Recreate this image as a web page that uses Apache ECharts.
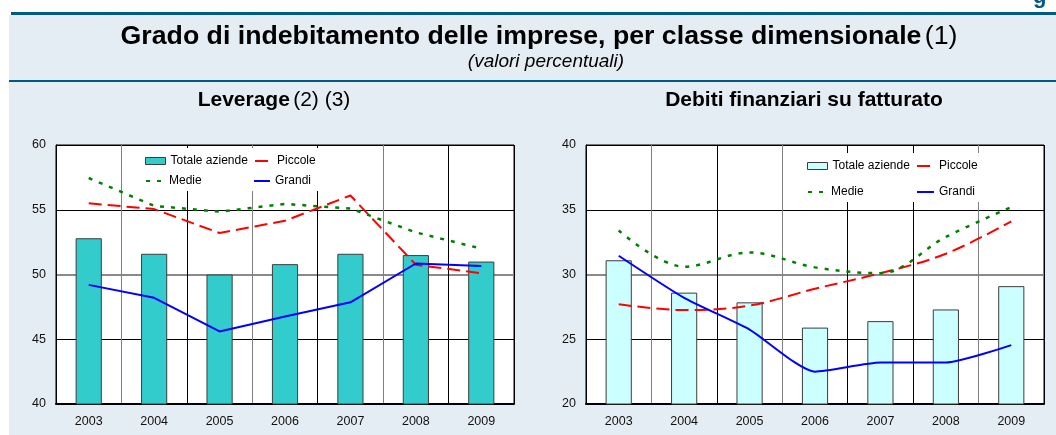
<!DOCTYPE html>
<html>
<head>
<meta charset="utf-8">
<script src="https://cdn.jsdelivr.net/npm/echarts@6/dist/echarts.min.js"></script>
<style>
html,body{margin:0;padding:0;background:#fff;}
#chart{width:1056px;height:435px;}
</style>
</head>
<body>
<div id="chart"></div>
<script>
// ---- data ----
const years = ['2003', '2004', '2005', '2006', '2007', '2008', '2009'];

// Leverage
const levTotale = [52.8, 51.6, 50.0, 50.8, 51.6, 51.5, 51.0];
const levPiccole = [55.5, 55.05, 53.2, 54.15, 56.1, 50.75, 50.1];
const levMedie = [57.45, 55.3, 54.85, 55.45, 55.1, 53.25, 52.0];
const levGrandi = [49.2, 48.2, 45.6, 46.75, 47.85, 50.85, 50.65];

// Debiti finanziari su fatturato
const debTotale = [31.1, 28.6, 27.85, 25.9, 26.4, 27.3, 29.1];
const debPiccole = [27.7, 27.25, 27.6, 28.9, 30.1, 31.6, 34.1];
const debMedie = [33.4, 30.6, 31.7, 30.55, 30.1, 32.9, 35.2];
const debGrandi = [31.45, 28.2, 25.75, 22.5, 23.2, 23.2, 24.55];

// axis ranges
const levAxis = {min: 40, max: 60, interval: 5, mid: 50};
const debAxis = {min: 20, max: 40, interval: 5, mid: 30};

// labels
const mainTitle = 'Grado di indebitamento delle imprese, per classe dimensionale';
const mainNote = '(1)';
const subTitle = '(valori percentuali)';
const leftTitle = 'Leverage';
const leftNote = '(2) (3)';
const rightTitle = 'Debiti finanziari su fatturato';
const names = ['Totale aziende', 'Piccole', 'Medie', 'Grandi'];

// ---- chart ----
const FONT = '"Liberation Sans", Arial, Helvetica, sans-serif';
const chart = echarts.init(document.getElementById('chart'), null, {renderer: 'canvas'});

const vColors = [
  ['#000', '#808080', '#000', '#808080', '#000', '#808080', '#000', '#000'],
  ['#000', '#808080', '#000', '#808080', '#000', '#000', '#808080', '#000']
];

function xAx(i) {
  return {
    type: 'category', gridIndex: i, data: years, boundaryGap: true,
    axisLine: {show: true, lineStyle: {color: '#000', width: 2}},
    axisTick: {show: false},
    axisLabel: {color: '#111', fontSize: 12.5, fontFamily: FONT, margin: 11, interval: 0},
    splitLine: {show: true, interval: 0, lineStyle: {color: vColors[i], width: 1}}
  };
}
function yAx(i, ax) {
  return {
    type: 'value', gridIndex: i, min: ax.min, max: ax.max, interval: ax.interval,
    axisLine: {show: true, lineStyle: {color: '#000', width: 1}},
    axisTick: {show: false},
    axisLabel: {color: '#111', fontSize: 12.5, fontFamily: FONT, margin: 10},
    splitLine: {show: true, lineStyle: {color: ['#000', '#000', '#808080', '#000', '#000'], width: 1}}
  };
}
function yMid(i, ax) {
  return {
    type: 'value', gridIndex: i, min: ax.min, max: ax.max, interval: ax.mid - ax.min,
    axisLine: {show: false}, axisTick: {show: false}, axisLabel: {show: false},
    splitLine: {show: true, lineStyle: {color: ['rgba(0,0,0,0)', '#8a8a8a', 'rgba(0,0,0,0)'], width: 2}}
  };
}

function lineSeries(name, data, xi, yi, color, type, width, smooth) {
  return {
    type: 'line', name: name, data: data, xAxisIndex: xi, yAxisIndex: yi,
    symbol: 'none', smooth: smooth, z: 3,
    lineStyle: {color: color, width: width, type: type},
    itemStyle: {color: color}
  };
}
function barSeries(name, data, xi, yi, color) {
  return {
    type: 'bar', name: name, data: data, xAxisIndex: xi, yAxisIndex: yi,
    barWidth: '40%', z: 2,
    itemStyle: {color: color, borderColor: '#3c3c3c', borderWidth: 1}
  };
}

const fmt = n => n.split('#')[0];
function leg(name, left, top, w, h, pad, extra) {
  return Object.assign({
    show: true, data: [name], left: left, top: top, padding: 0,
    itemWidth: w, itemHeight: h, selectedMode: false, formatter: fmt,
    textStyle: {fontSize: 12, color: '#000', fontFamily: FONT, padding: [0, 0, 0, pad]}
  }, extra || {});
}
const rectLeg = {icon: 'rect', itemStyle: {borderColor: '#3c3c3c', borderWidth: 1}};
const lineLeg = {itemStyle: {opacity: 0}};

const option = {
  animation: false,
  backgroundColor: '#E5EDF4',
  textStyle: {fontFamily: FONT},
  graphic: [
    {type: 'rect', z: 0, shape: {x: 0, y: 0, width: 1056, height: 15}, style: {fill: '#fff'}},
    {type: 'rect', z: 0, shape: {x: 0, y: 0, width: 9, height: 435}, style: {fill: '#fff'}},
    {type: 'text', z: 1, style: {text: 'g', x: 1033, y: 8, font: 'bold 22px ' + FONT, fill: '#015a84', verticalAlign: 'bottom'}},
    {type: 'rect', z: 1, shape: {x: 11, y: 12, width: 1045, height: 3}, style: {fill: '#015a84'}},
    {type: 'rect', z: 1, shape: {x: 9, y: 80, width: 1047, height: 2}, style: {fill: '#015a84'}},
    {type: 'text', z: 1, style: {
      text: '{b|' + mainTitle + '} {r|' + mainNote + '}', x: 539, y: 37, align: 'center', verticalAlign: 'middle',
      rich: {b: {font: 'bold 26.7px ' + FONT, fill: '#000'}, r: {font: '26.7px ' + FONT, fill: '#000'}}}},
    {type: 'text', z: 1, style: {text: subTitle, x: 546, y: 62, align: 'center', verticalAlign: 'middle',
      font: 'italic 19px ' + FONT, fill: '#000'}},
    {type: 'text', z: 1, style: {
      text: '{b|' + leftTitle + '} {r|' + leftNote + '}', x: 274, y: 100, align: 'center', verticalAlign: 'middle',
      rich: {b: {font: 'bold 21px ' + FONT, fill: '#000'}, r: {font: '21px ' + FONT, fill: '#000'}}}},
    {type: 'text', z: 1, style: {text: rightTitle, x: 804, y: 100, align: 'center', verticalAlign: 'middle',
      font: 'bold 21px ' + FONT, fill: '#000'}},
    {type: 'rect', z: 1, shape: {x: 138, y: 148, width: 184, height: 43}, style: {fill: '#fff'}},
    {type: 'rect', z: 1, shape: {x: 798, y: 153, width: 192, height: 49}, style: {fill: '#fff'}}
  ],
  grid: [
    {left: 56, top: 145, width: 458, height: 259, show: true, backgroundColor: '#fff', borderColor: '#000', borderWidth: 1},
    {left: 586, top: 145, width: 458, height: 259, show: true, backgroundColor: '#fff', borderColor: '#000', borderWidth: 1}
  ],
  xAxis: [xAx(0), xAx(1)],
  yAxis: [yAx(0, levAxis), yMid(0, levAxis), yAx(1, debAxis), yMid(1, debAxis)],
  legend: [
    leg(names[0] + '#L', 145, 155, 20, 7, 0, rectLeg),
    leg(names[1] + '#L', 254, 155, 13, 12, 4, lineLeg),
    leg(names[2] + '#L', 145, 175, 17, 12, 1, lineLeg),
    leg(names[3] + '#L', 253, 175, 16, 12, 0, lineLeg),
    leg(names[0] + '#R', 807, 160, 20, 7, 0, rectLeg),
    leg(names[1] + '#R', 916, 160, 13, 12, 4, lineLeg),
    leg(names[2] + '#R', 807, 186, 17, 12, 1, lineLeg),
    leg(names[3] + '#R', 916, 186, 17, 12, 0, lineLeg)
  ],
  series: [
    barSeries(names[0] + '#L', levTotale, 0, 0, '#33CCCC'),
    lineSeries(names[1] + '#L', levPiccole, 0, 0, '#FF0000', [13, 6], 2, false),
    lineSeries(names[2] + '#L', levMedie, 0, 0, '#008000', [4, 7], 2.5, false),
    lineSeries(names[3] + '#L', levGrandi, 0, 0, '#0000FF', 'solid', 2, false),
    barSeries(names[0] + '#R', debTotale, 1, 2, '#CCFFFF'),
    lineSeries(names[1] + '#R', debPiccole, 1, 2, '#FF0000', [13, 6], 2, 0.35),
    lineSeries(names[2] + '#R', debMedie, 1, 2, '#008000', [4, 7], 2.5, 0.35),
    lineSeries(names[3] + '#R', debGrandi, 1, 2, '#0000FF', 'solid', 2, 0.2)
  ]
};
chart.setOption(option);
</script>
</body>
</html>
